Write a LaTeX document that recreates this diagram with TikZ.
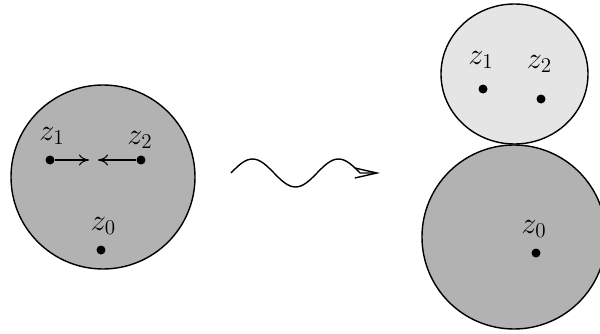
\documentclass[tikz,border=0pt]{standalone}
\usetikzlibrary{arrows.meta,positioning}

\begin{document}
\begin{tikzpicture}[thick,
    disc/.style={draw, fill=black!30},
    bubble/.style={draw, fill=black!10},
    dot/.style={circle, fill, inner sep=0pt, minimum size=0.18cm},
    lbl/.style={font=\LARGE, inner sep=1pt},
    pull/.style={semithick, -{To[length=2mm,width=2.2mm]}},
    wave/.style={-{Straight Barb[length=4.4mm,width=2mm]}}]
  \useasboundingbox (0,0) rectangle (12,6.66);
  % before: one disc with three points
  \draw[disc] (2.06,3.12) circle (1.84);
  \node[dot] (a1) at (1.0,3.46) {};
  \node[dot] (a2) at (2.82,3.46) {};
  \node[dot] (a0) at (2.02,1.66) {};
  \node[lbl] (la1) at (1.04,3.94) {$z_1$};
  \node[lbl] (la2) at (2.80,3.86) {$z_2$};
  \node[lbl] (la0) at (2.07,2.14) {$z_0$};
  \coordinate (m1) at (1.78,3.46);
  \coordinate (m2) at (1.96,3.46);
  \draw[pull] (a1) -- (m1);
  \draw[pull] (a2) -- (m2);
  % degeneration
  \coordinate (ws) at (4.62,3.2);
  \coordinate (we) at (7.6,3.2);
  \draw[wave] (ws) sin ++(0.43,0.28) cos ++(0.43,-0.28) sin ++(0.43,-0.28)
    cos ++(0.43,0.28) sin ++(0.43,0.28) cos ++(0.43,-0.28) -- (we);
  % after: bubble on top of the disc
  \draw[bubble] (10.29,5.18) ellipse (1.47 and 1.40);
  \draw[disc] (10.28,1.92) circle (1.84);
  \node[dot] (b1) at (9.66,4.88) {};
  \node[dot] (b2) at (10.82,4.68) {};
  \node[dot] (b0) at (10.72,1.60) {};
  \node[lbl] (lb1) at (9.62,5.46) {$z_1$};
  \node[lbl] (lb2) at (10.79,5.38) {$z_2$};
  \node[lbl] (lb0) at (10.68,2.08) {$z_0$};
\end{tikzpicture}
\end{document}
